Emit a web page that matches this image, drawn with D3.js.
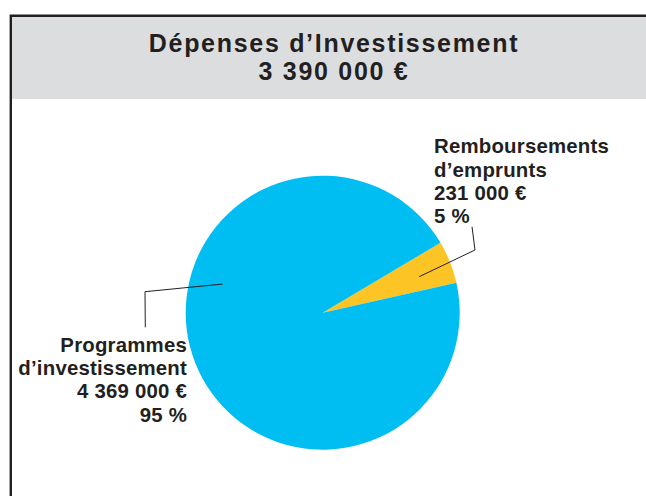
<!DOCTYPE html>
<html><head><meta charset="utf-8">
<script src="https://cdn.jsdelivr.net/npm/d3@7"></script>
<style>body{margin:0;background:#fff}svg{display:block}text{font-family:"Liberation Sans",Arial,sans-serif;font-weight:700;fill:#231f20}</style>
</head><body><svg id="c" width="646" height="496"></svg>
<script>
const categories = ["Remboursements d’emprunts", "Programmes d’investissement"];
const values = [231000, 4369000];
const amountLabels = ["231 000 €", "4 369 000 €"];
const pctLabels = ["5 %", "95 %"];
const colors = ["#fdc425", "#00bdf2"];
const titleLines = ["Dépenses d’Investissement", "3 390 000 €"];

const svg = d3.select("#c");
// frame
svg.append("rect").attr("x",12).attr("y",17).attr("width",640).attr("height",82).attr("fill","#dcdddf");
svg.append("path").attr("d","M10.8,500 V15.8 H650").attr("fill","none").attr("stroke","#231f20").attr("stroke-width",2.4);

svg.selectAll("text.title").data(titleLines).join("text").attr("class","title")
  .attr("x",334).attr("y",(d,i)=>52+i*28.3).attr("text-anchor","middle")
  .style("font-size","25px").style("letter-spacing","1.7px").text(d=>d);

const cx=322.7, cy=312.7, R=137;
const deg=Math.PI/180;
const start=59.3*deg;
const pie=d3.pie().sort(null).startAngle(start).endAngle(start+2*Math.PI);
const arcs=pie(values);
const arc=d3.arc().innerRadius(0).outerRadius(R);
const g=svg.append("g").attr("transform",`translate(${cx},${cy})`);
g.selectAll("path").data(arcs).join("path").attr("d",arc).attr("fill",(d,i)=>colors[i]);

function pt(a,r){return [Math.sin(a)*r, -Math.cos(a)*r];}
// leader lines
const a0=(arcs[0].startAngle+arcs[0].endAngle)/2;
const p0=pt(a0+1.2*deg,103);
const line=d3.line();
g.append("path").attr("d",line([p0,[152.3,-62.7],[149.3,-86]])).attr("fill","none").attr("stroke","#231f20").attr("stroke-width",1);
const p1=pt(286*deg,104);
g.append("path").attr("d",line([p1,[-177.7,-21],[-177.4,14.6]])).attr("fill","none").attr("stroke","#231f20").attr("stroke-width",1);

const lh=23.3;
const rLines=["Remboursements","d’emprunts",amountLabels[0],pctLabels[0]];
svg.selectAll("text.r").data(rLines).join("text").attr("class","r")
  .attr("x",434).attr("y",(d,i)=>153.3+i*lh).style("font-size","20.4px").style("letter-spacing","0.2px").text(d=>d);
const lLines=["Programmes","d’investissement",amountLabels[1],pctLabels[1]];
svg.selectAll("text.l").data(lLines).join("text").attr("class","l")
  .attr("x",187).attr("y",(d,i)=>351.7+i*lh).attr("text-anchor","end").style("font-size","20.4px").style("letter-spacing","0.2px").text(d=>d);
</script></body></html>
